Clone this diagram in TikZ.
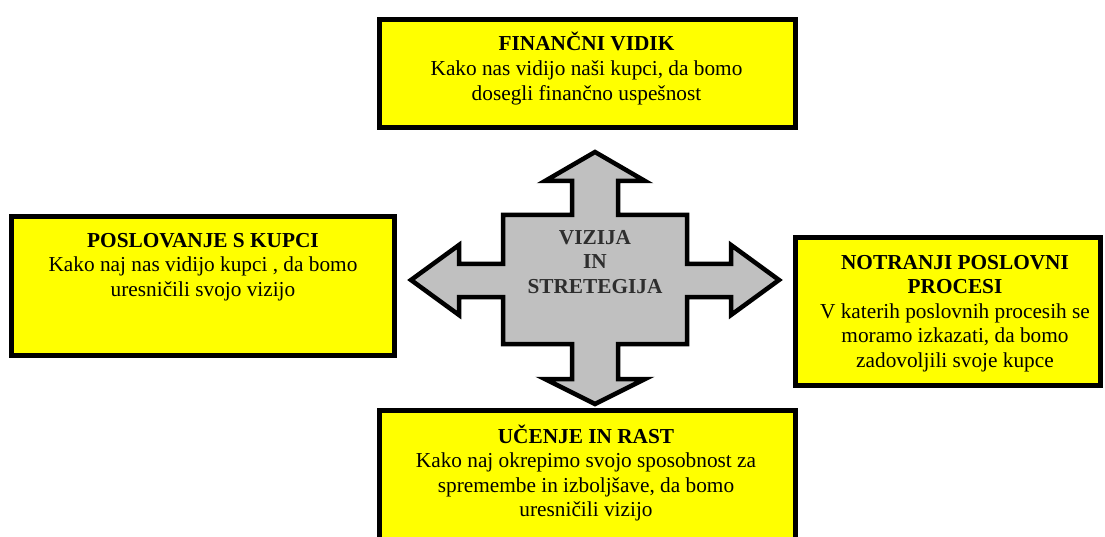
\documentclass[tikz,border=0pt]{standalone}
\usepackage{fontspec}
\setmainfont{Liberation Serif}
\definecolor{boxyellow}{HTML}{FFFF00}
\definecolor{crossgray}{HTML}{C0C0C0}
\definecolor{crosstext}{HTML}{2E2E2E}
\begin{document}
\begin{tikzpicture}[x=1pt,y=-1pt,
  panel/.style={draw=black, line width=5pt, fill=boxyellow, rectangle,
    inner sep=0pt, outer sep=0pt},
  paneltext/.style={anchor=north, align=center, inner sep=0pt, outer sep=0pt,
    font=\fontsize{21.3}{24.6}\selectfont},
  cross/.style={draw=black, line width=4.5pt, fill=crossgray, line join=miter},
  crosslabel/.style={anchor=north, align=center, inner sep=0pt,
    text=crosstext, font=\fontsize{21.3}{24.6}\selectfont\bfseries}]
\useasboundingbox (0,0) rectangle (1105,537);
\clip (0,0) rectangle (1105,537);

% four perspective panels
\node[panel, minimum width=416pt, minimum height=108pt] (fin) at (587.5,73.5) {};
\node[panel, minimum width=383pt, minimum height=139pt] (kup) at (203,286) {};
\node[panel, minimum width=305pt, minimum height=148pt] (proc) at (948,311.5) {};
\node[panel, minimum width=416pt, minimum height=147pt] (ucen) at (587.5,484) {};

% the four-way arrow in the middle
\coordinate (c) at (595,280);
\draw[cross]
  (595,152) -- (645,181) -- (618,181) -- (618,215) -- (687,215) -- (687,264)
  -- (731,264) -- (731,245) -- (779,280) -- (731,315) -- (731,297)
  -- (687,297) -- (687,344) -- (618,344) -- (618,379) -- (645,379)
  -- (595,404) -- (545,379) -- (572,379) -- (572,344) -- (503,344)
  -- (503,297) -- (459,297) -- (459,315) -- (411,280) -- (459,245)
  -- (459,264) -- (503,264) -- (503,215) -- (572,215) -- (572,181)
  -- (545,181) -- cycle;

\node[crosslabel] (viz) at (595,222)
  {\rule{0pt}{22pt}VIZIJA\\IN\\STRETEGIJA};

% panel texts
\node[paneltext] (fint) at (586.5,29)
  {\rule{0pt}{22pt}\textbf{FINANČNI VIDIK}\\Kako nas vidijo naši kupci, da bomo\\dosegli finančno uspešnost};
\node[paneltext] (kupt) at (203,225)
  {\rule{0pt}{22pt}\textbf{POSLOVANJE S KUPCI}\\Kako naj nas vidijo kupci , da bomo\\uresničili svojo vizijo};
\node[paneltext] (proct) at (955,247)
  {\rule{0pt}{22pt}\textbf{NOTRANJI POSLOVNI}\\\textbf{PROCESI}\\V katerih poslovnih procesih se\\moramo izkazati, da bomo\\zadovoljili svoje kupce};
\node[paneltext] (ucent) at (586,421)
  {\rule{0pt}{22pt}\textbf{UČENJE IN RAST}\\Kako naj okrepimo svojo sposobnost za\\spremembe in izboljšave, da bomo\\uresničili vizijo};
\end{tikzpicture}
\end{document}
